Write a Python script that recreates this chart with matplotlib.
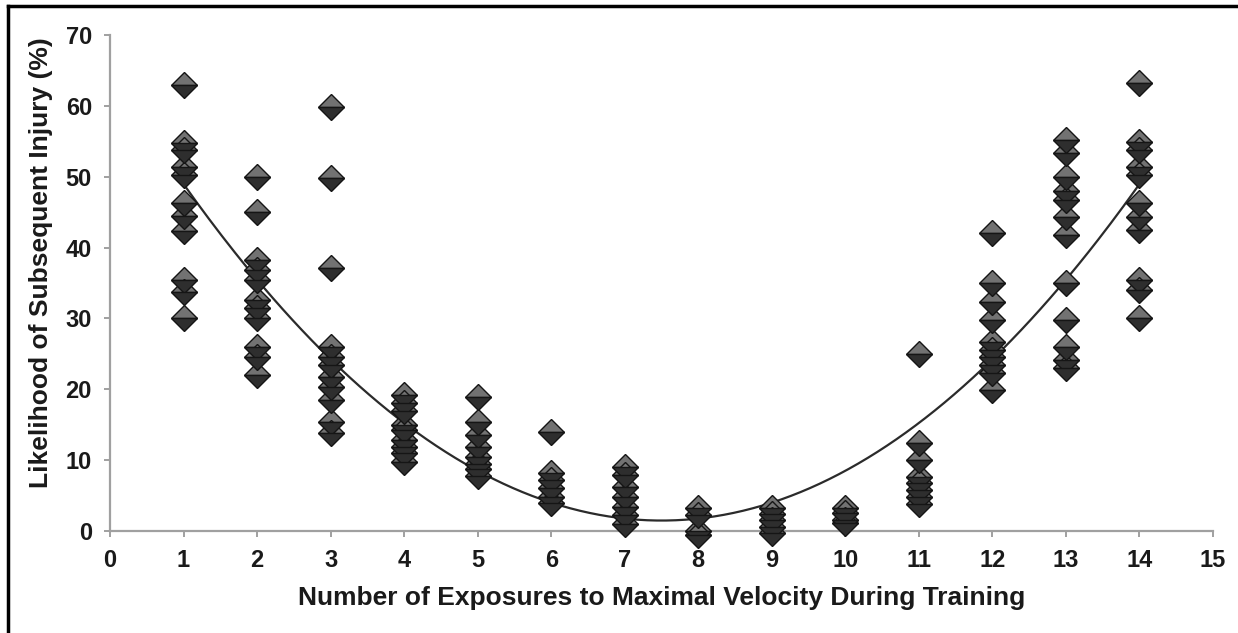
import matplotlib
matplotlib.use("Agg")
import matplotlib.pyplot as plt
import numpy as np
from matplotlib.lines import Line2D

# ---- data ----
exposures = [1, 2, 3, 4, 5, 6, 7, 8, 9, 10, 11, 12, 13, 14]
injury_pct = [
    [63, 54.8, 53.8, 51.4, 50.2, 46.3, 44.4, 42.3, 35.4, 33.8, 30.1],          # 1
    [50, 45, 38.2, 36.8, 35.4, 32.6, 31.5, 30.1, 26, 24.5, 22],                # 2
    [59.8, 49.8, 37.1, 26, 24.5, 23.4, 21.7, 20.3, 18.5, 15.4, 13.8],          # 3
    [19.2, 18, 17, 15, 14.3, 12.8, 11.9, 11, 9.8],                             # 4
    [18.9, 15.4, 13.5, 11.9, 10.4, 9.5, 8.8, 7.8],                             # 5
    [14, 8.2, 7.2, 6.1, 4.8, 4],                                               # 6
    [9, 7.9, 6.2, 4.8, 3.4, 2.2, 1],                                           # 7
    [3.2, 2.3, 0, -0.5],                                                       # 8
    [3.3, 2.4, 1.5, 0.6, -0.3],                                                # 9
    [3.2, 2.5, 1.6, 1.1],                                                      # 10
    [25, 12.4, 10, 7.6, 6.8, 5.8, 4.8, 3.8],                                   # 11
    [42, 35, 32.3, 29.8, 26.7, 25.5, 24.6, 23.4, 22.3, 19.9],                  # 12
    [55.2, 53.3, 50, 48, 46.7, 44.3, 41.8, 35, 29.8, 26, 24.1, 23],            # 13
    [63.2, 54.9, 53.8, 51.4, 50.2, 46.3, 44.3, 42.5, 35.4, 34, 30.1],          # 14
]
# polynomial trendline shown in the chart (a*x^2 + b*x + c)
trend_coef = [1.124, -16.86, 64.7]
trend_range = [1, 14]

x_ticks = list(range(0, 16))
y_ticks = list(range(0, 71, 10))
x_label = "Number of Exposures to Maximal Velocity During Training"
y_label = "Likelihood of Subsequent Injury (%)"

plt.rcParams['font.family'] = ['Liberation Sans', 'DejaVu Sans']

fig = plt.figure(figsize=(12.38, 6.33), dpi=100)
ax = fig.add_axes([110/1238, 1-531/633, (1213-110)/1238, (531-35)/633])

xs = np.concatenate([[x]*len(v) for x, v in zip(exposures, injury_pct)])
ys = np.concatenate(injury_pct)

xf = np.linspace(trend_range[0], trend_range[1], 300)
ax.plot(xf, np.polyval(trend_coef, xf), color='#2b2b2b', lw=1.6, zorder=2)

ax.plot(xs, ys, linestyle='none', marker='D', markersize=13.5,
        fillstyle='top', markerfacecolor='#727272', markerfacecoloralt='#2e2e2e',
        markeredgecolor='#151515', markeredgewidth=1.0, zorder=3, clip_on=False)

ax.set_xlim(0, 15)
ax.set_ylim(0, 70)
ax.set_xticks(x_ticks)
ax.set_yticks(y_ticks)
for s in ['top', 'right']:
    ax.spines[s].set_visible(False)
for s in ['left', 'bottom']:
    ax.spines[s].set_color('#a0a0a0')
    ax.spines[s].set_linewidth(1.6)
ax.spines['bottom'].set_zorder(1)
ax.tick_params(axis='both', colors='#a0a0a0', width=1.4, length=4, direction='out',
               labelcolor='#1a1a1a', labelsize=17)
ax.tick_params(axis='x', pad=9)
ax.tick_params(axis='y', pad=9)
for lab in ax.get_xticklabels() + ax.get_yticklabels():
    lab.set_fontweight('bold')

ax.set_xlabel(x_label, fontsize=19, fontweight='bold', color='#1a1a1a', labelpad=10)
ax.set_ylabel(y_label, fontsize=19, fontweight='bold', color='#1a1a1a', labelpad=9)
ax.yaxis.label.set_y(0.542)

# outer frame (top and left edges)
fig.add_artist(Line2D([8/1238, 1], [1-6/633, 1-6/633], color='black', lw=2.5,
                      transform=fig.transFigure))
fig.add_artist(Line2D([8/1238, 8/1238], [0, 1-6/633], color='black', lw=2.5,
                      transform=fig.transFigure))

fig.savefig('out.png', dpi=100)
